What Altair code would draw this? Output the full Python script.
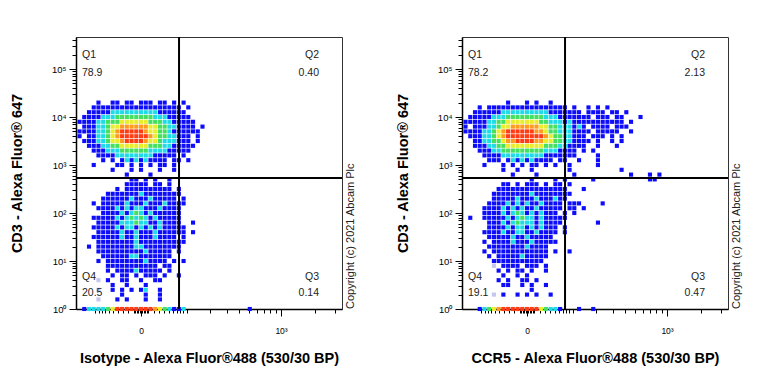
import altair as alt
import numpy as np
import pandas as pd

# ---------------- data ----------------
# Events are binned on a grid in display units:
#   column i -> logicle display value X0 + i*DX ; row j -> log10(CD3) Y0 - j*DY
# Characters give the pseudocolour density level of each occupied bin
# ('.' empty, 'l' faint, '1' blue ... '6' red).
X0, DX = -0.52, 0.04
Y0, DY = 4.3, 0.1
SYMLOG_C = 70.0          # constant of the biexponential-like x transform

P1_ROWS = [
    "....1..11.11.111.11.1.1..",
    "...1111111111111111111.1.",
    "..111112222222222111111..",
    ".11112223333333322211111.",
    "1111223334444443332211111",
    ".111223445555554433221111.1",
    "11112234566666544332111111",
    "1.1122345666666543322111.1",
    ".11122344566665443222111.1",
    "..11122334444443332211111",
    "...111222333333222211111",
    "....11112222222211111.1",
    ".....1.1.1212121111.11.1",
    "...1....11.1.1.1.11.1",
    ".......1...1.1...1..1",
    "..........1....1",
    "...........11.1.1..1.....",
    "..........11111.11.1.....",
    "........1.1111111111.1...",
    "......1111111211111111...",
    ".....1111112111211111.1..",
    "...1.111112111211121111..",
    "....111121212211121111...",
    ".....11112123212111111...",
    "...1111121232321211111...",
    "....111112223221121111..1",
    "...11111212212121211111..",
    "....1111121121112111111.1",
    "...111111211211121111.1..",
    "....1111111121111111111..",
    "..1.111111112211111111...",
    "....1111111111211111.1...",
    ".....111111221111111.....",
    "....1.1111111121111.1.1..",
    "......11111111111.11.....",
    "......1.1111211111.1.....",
    ".......1.11.1.111.1..1...",
    "....l.1..11..1..11.......",
    ".......1..1...1..........",
    "....l..1.1.1.12..1.......",
    ".........1....1..1.......",
    "....l...1.1...1..1.......",
]
P1_BAND = ".1222234666666665432112" + "." * 13 + "1"

P2_ROWS = [
    ".........1...1.1..1.......................",
    "...1.11111111111111111.1..1.1.1...........",
    "..11111122222222221111111.1111.11.1.......",
    ".11111222333333332221111111.111.11...1....",
    "1111122334444444332221211111111111.1......",
    "1.111223445555554433222121.1111.111.......",
    "111122345666666554332221111.11111..1......",
    ".1112234566666666543322111.111.1.1........",
    "..1122334556666554433221111.1..1.1........",
    "..111223344444444333221111..1...1.........",
    "...111223333333332221111.1.1..............",
    "....11112222222221111111....1.............",
    ".....111.1212121111.11..1...1.............",
    "....1...1.1.1.11.1.1..1.....1.............",
    "........1..1..1.......1..........1........",
    "..........1....1.......1...........1...1.1",
    "..............1....1.1.....1...........11.",
    "........11.1.111.1.11.1...................",
    ".......111111111111111...1................",
    "......11111111211111111...................",
    "......1111121112111211....................",
    ".....1111212121121111.111....1............",
    "....11112121211211111.11.1................",
    "....1111212321212111.1.1..................",
    ".1..111112123221211111....................",
    ".....1112123222121111.......1.............",
    ".....111121221212111.1....................",
    "....1111211221121111.1....................",
    ".....11111211211111.......................",
    "....1.11112111211111......................",
    ".....1111111121111........................",
    "....1.111111111111.1..1...................",
    ".....1.11111211111",
    "......11111111111",
    "......l.1111.111.1",
    ".......1.1.11.1..1",
    "........1..1.1",
    ".......1.1..11.1",
    "........11..1.1..1",
    "..............1",
    "......l.1..1.1.1..1",
    "",
]
P2_BAND = "...12345" + "66666666" + "43221" + "..." + "1" + ".." + "1"

QUADRANTS = ["Q1", "Q2", "Q3", "Q4"]
P1_PERCENT = ["78.9", "0.40", "0.14", "20.5"]
P2_PERCENT = ["78.2", "2.13", "0.47", "19.1"]

Y_TITLE = "CD3 - Alexa Fluor® 647"
P1_X_TITLE = "Isotype - Alexa Fluor®488 (530/30 BP)"
P2_X_TITLE = "CCR5 - Alexa Fluor®488 (530/30 BP)"
COPYRIGHT = "Copyright (c) 2021 Abcam Plc"

# gates (display units)
GATE_X = 0.3215
GATE_Y = 2.73

# axis tick values (raw scale units)
X_TICKS_RAW = ([-100, -90, -80, -70, -60, -50, -40, -30, -20, -10, -8, -6, -4, -2, 0,
                2, 4, 6, 8, 10, 20, 30, 40, 50, 60, 70, 80, 90, 100,
                200, 300, 400, 500, 600, 700, 800, 900, 1000, 2000, 3000])
Y_DECADES = [0, 1, 2, 3, 4, 5]
Y_SUPER = ["10⁰", "10¹", "10²", "10³", "10⁴", "10⁵"]

X_DOMAIN = [-0.55, 1.70]
Y_DOMAIN = [0.0, 5.667]

LEVELS = ["l", "1", "2", "3", "4", "5", "6"]
LEVEL_COLORS = ["#c6c6f0", "#0d0dfa", "#1fdbe8", "#45e060", "#e8ee2c", "#ff9a1e", "#ff3c14"]

FONT = "Liberation Sans"
W, H = 266, 272


# ---------------- helpers ----------------
def tx(v):
    return float(np.sign(v) * np.log10(1 + abs(v) / SYMLOG_C))


X_TICKS = [round(tx(v), 6) for v in X_TICKS_RAW]
T1000 = round(tx(1000), 6)
Y_TICKS = sorted(set(Y_DECADES + [round(d + np.log10(k), 6) for d in Y_DECADES
                                  for k in range(2, 10) if d + np.log10(k) <= Y_DOMAIN[1]]))


def grid_df(rows, band):
    recs = []
    for j, row in enumerate(rows):
        for i, ch in enumerate(row):
            if ch != ".":
                recs.append({"x": X0 + i * DX, "y": Y0 - j * DY, "level": ch})
    for i, ch in enumerate(band):
        if ch != ".":
            recs.append({"x": X0 + i * DX, "y": 0.0, "level": ch})
    df = pd.DataFrame(recs)
    df["rank"] = df["level"].map(LEVELS.index)
    return df.sort_values("rank", kind="stable").reset_index(drop=True)


x_axis = alt.Axis(
    values=X_TICKS,
    labelExpr=f"datum.value == 0 ? '0' : (abs(datum.value - {T1000}) < 0.0001 ? '10³' : '')",
    tickSize={"condition": {"test": f"datum.value == 0 || abs(datum.value - {T1000}) < 0.0001",
                            "value": 7}, "value": 4},
    labelOverlap=False, labelPadding=10, titlePadding=17, labelFontSize=8.5,
)
y_axis = alt.Axis(
    values=Y_TICKS,
    labelExpr="datum.value % 1 == 0 ? " + str(Y_SUPER) + "[datum.value] : ''",
    tickSize={"condition": {"test": "datum.value % 1 == 0", "value": 7}, "value": 4},
    labelOverlap=False, labelPadding=3, titlePadding=27, labelFontSize=9.5,
)


def text_layer(txt, x, y, align="left", size=10.5, angle=0):
    kw = dict(align=align, baseline="middle", fontSize=size, font=FONT, color="#222222")
    if angle:
        kw["angle"] = angle
    return alt.Chart(pd.DataFrame({"t": [txt]})).mark_text(**kw).encode(
        text="t:N", x=alt.value(x), y=alt.value(y))


def panel(rows, band, percents, x_title):
    X = alt.X("x:Q", scale=alt.Scale(domain=X_DOMAIN, nice=False, zero=False),
              axis=x_axis, title=x_title)
    Y = alt.Y("y:Q", scale=alt.Scale(domain=Y_DOMAIN, nice=False, zero=False),
              axis=y_axis, title=Y_TITLE)
    pts = alt.Chart(grid_df(rows, band)).mark_square(size=17, opacity=1).encode(
        x=X, y=Y,
        color=alt.Color("level:N", scale=alt.Scale(domain=LEVELS, range=LEVEL_COLORS), legend=None),
    )
    gx = alt.Chart(pd.DataFrame({"x": [GATE_X]})).mark_rule(color="black", strokeWidth=2).encode(x=X)
    gy = alt.Chart(pd.DataFrame({"y": [GATE_Y]})).mark_rule(color="black", strokeWidth=2).encode(y=Y)
    layers = [pts, gx, gy,
              text_layer(QUADRANTS[0], 6, 18), text_layer(percents[0], 6, 36),
              text_layer(QUADRANTS[1], 243, 18, "right"), text_layer(percents[1], 243, 36, "right"),
              text_layer(QUADRANTS[2], 243, 240, "right"), text_layer(percents[2], 243, 256, "right"),
              text_layer(QUADRANTS[3], 6, 240), text_layer(percents[3], 6, 256),
              text_layer(COPYRIGHT, W + 9, H, "left", 11, 270)]
    return alt.layer(*layers).properties(width=W, height=H)


chart = alt.hconcat(
    panel(P1_ROWS, P1_BAND, P1_PERCENT, P1_X_TITLE),
    panel(P2_ROWS, P2_BAND, P2_PERCENT, P2_X_TITLE),
    spacing=37,
).properties(
    padding={"left": 0, "top": 26, "right": 5, "bottom": 5},
    background="white",
).configure_view(
    stroke="#333333", strokeWidth=1,
).configure_axis(
    grid=False, domainColor="black", domainWidth=1.5, tickColor="black", tickWidth=1,
    labelFont=FONT, labelColor="black", titleFont=FONT, titleFontSize=14.5,
    titleFontWeight="bold", titleColor="black",
)

chart.save("out.html", embed_options={"renderer": "svg", "actions": False})
